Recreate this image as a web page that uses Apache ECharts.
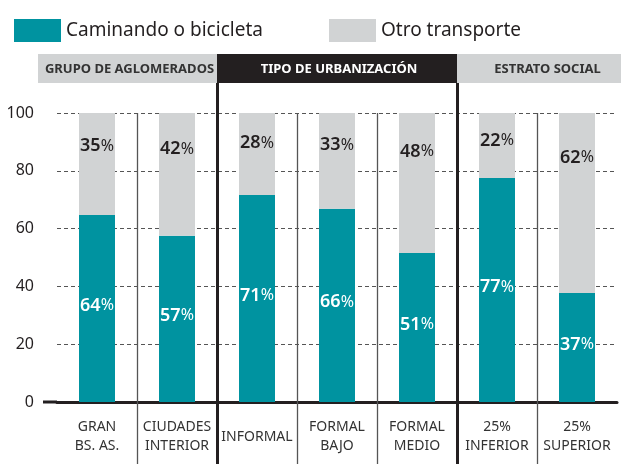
<!DOCTYPE html>
<html>
<head>
<meta charset="utf-8">
<script src="https://cdn.jsdelivr.net/npm/echarts@6/dist/echarts.min.js"></script>
<style>
  html, body { margin: 0; padding: 0; background: #fff; }
  #chart { width: 621px; height: 464px; }
</style>
</head>
<body>
<div id="chart"></div>
<script>
// data
var categories = ['GRAN\nBS. AS.', 'CIUDADES\nINTERIOR', 'INFORMAL', 'FORMAL\nBAJO', 'FORMAL\nMEDIO', '25%\nINFERIOR', '25%\nSUPERIOR'];
var walkBike = [64.7, 57.5, 71.6, 66.9, 51.6, 77.5, 37.7];
var otherTransport = [35.3, 42.5, 28.4, 33.1, 48.4, 22.5, 62.3];
var walkBikeLabels = [64, 57, 71, 66, 51, 77, 37];
var otherLabels = [35, 42, 28, 33, 48, 22, 62];
var groupNames = ['GRUPO DE AGLOMERADOS', 'TIPO DE URBANIZACIÓN', 'ESTRATO SOCIAL'];
var groupStart = [0, 2, 5]; // first category index of each group

var TEAL = '#0093a0';
var GRAY = '#d1d3d4';
var INK = '#231f20';
var FONT = '"Noto Sans", sans-serif';

// layout of the plot area
var GL = 57, GR = 617, GT = 113, GB = 402, H = 464, W = 621;
var step = (GR - GL) / categories.length;

var chart = echarts.init(document.getElementById('chart'));

// header bands + separators
var graphics = [];
for (var g = 0; g < groupStart.length; g++) {
  var x0 = GL + groupStart[g] * step;
  var x1 = g + 1 < groupStart.length ? GL + groupStart[g + 1] * step : GR;
  if (g === 0) x0 -= 19;
  if (g === groupStart.length - 1) x1 += 17;
  var dark = g === 1;
  graphics.push({
    type: 'rect', z: 10,
    shape: { x: x0, y: 54, width: x1 - x0, height: 29 },
    style: { fill: dark ? INK : GRAY }
  });
  graphics.push({
    type: 'text', z: 11, x: (x0 + x1) / 2 + 2, y: 69,
    style: {
      text: groupNames[g], fill: dark ? '#fff' : '#333',
      font: 'bold 13px ' + FONT, align: 'center', verticalAlign: 'middle'
    }
  });
}
for (var k = 1; k < categories.length; k++) {
  var xx = Math.round(GL + k * step) + 0.5;
  var thick = groupStart.indexOf(k) >= 0;
  graphics.push({
    type: 'line', z: 12,
    shape: { x1: xx, y1: thick ? 83 : GT, x2: xx, y2: H },
    style: { stroke: thick ? INK : '#555', lineWidth: thick ? 3 : 1.3 }
  });
}
// little stub of the base line left of the grid
graphics.push({
  type: 'line', z: 12,
  shape: { x1: 43, y1: GB, x2: GL, y2: GB },
  style: { stroke: INK, lineWidth: 3 }
});

var otherData = otherTransport.map(function (v) {
  return { value: v, label: { distance: 9 + 0.43 * v } };
});

var option = {
  animation: false,
  textStyle: { fontFamily: FONT },
  legend: [
    {
      data: ['Caminando o bicicleta'], left: 9, top: 14,
      itemWidth: 47, itemHeight: 23, icon: 'rect',
      textStyle: { fontSize: 19, color: INK }
    },
    {
      data: ['Otro transporte'], left: 324, top: 14,
      itemWidth: 47, itemHeight: 23, icon: 'rect',
      textStyle: { fontSize: 19, color: INK }
    }
  ],
  grid: { left: GL, right: W - GR, top: GT, bottom: H - GB },
  xAxis: {
    type: 'category',
    data: categories,
    axisLine: { lineStyle: { color: INK, width: 3 } },
    axisTick: { show: false },
    axisLabel: {
      color: '#333', fontSize: 14, lineHeight: 19,
      margin: 35, verticalAlign: 'middle', interval: 0
    }
  },
  yAxis: {
    type: 'value',
    min: 0, max: 100, interval: 20,
    axisLine: { show: false },
    axisTick: { show: false },
    axisLabel: { color: INK, fontSize: 16, margin: 23 },
    splitLine: { lineStyle: { color: '#555', type: [4, 3], width: 1 } }
  },
  series: [
    {
      name: 'Caminando o bicicleta',
      type: 'bar', stack: 'total', barWidth: 36,
      itemStyle: { color: TEAL },
      data: walkBike,
      label: {
        show: true, position: 'inside', offset: [0, -3],
        formatter: function (p) { return '{n|' + walkBikeLabels[p.dataIndex] + '}{p|%}'; },
        rich: {
          n: { fontSize: 18, fontWeight: 600, color: '#fff', lineHeight: 18 },
          p: { fontSize: 16, color: '#fff', lineHeight: 18 }
        }
      }
    },
    {
      name: 'Otro transporte',
      type: 'bar', stack: 'total', barWidth: 36,
      itemStyle: { color: GRAY },
      data: otherData,
      label: {
        show: true, position: 'insideTop',
        formatter: function (p) { return '{n|' + otherLabels[p.dataIndex] + '}{p|%}'; },
        rich: {
          n: { fontSize: 18, fontWeight: 600, color: INK, lineHeight: 18 },
          p: { fontSize: 16, color: INK, lineHeight: 18 }
        }
      }
    }
  ],
  graphic: graphics
};

chart.setOption(option);
</script>
</body>
</html>
